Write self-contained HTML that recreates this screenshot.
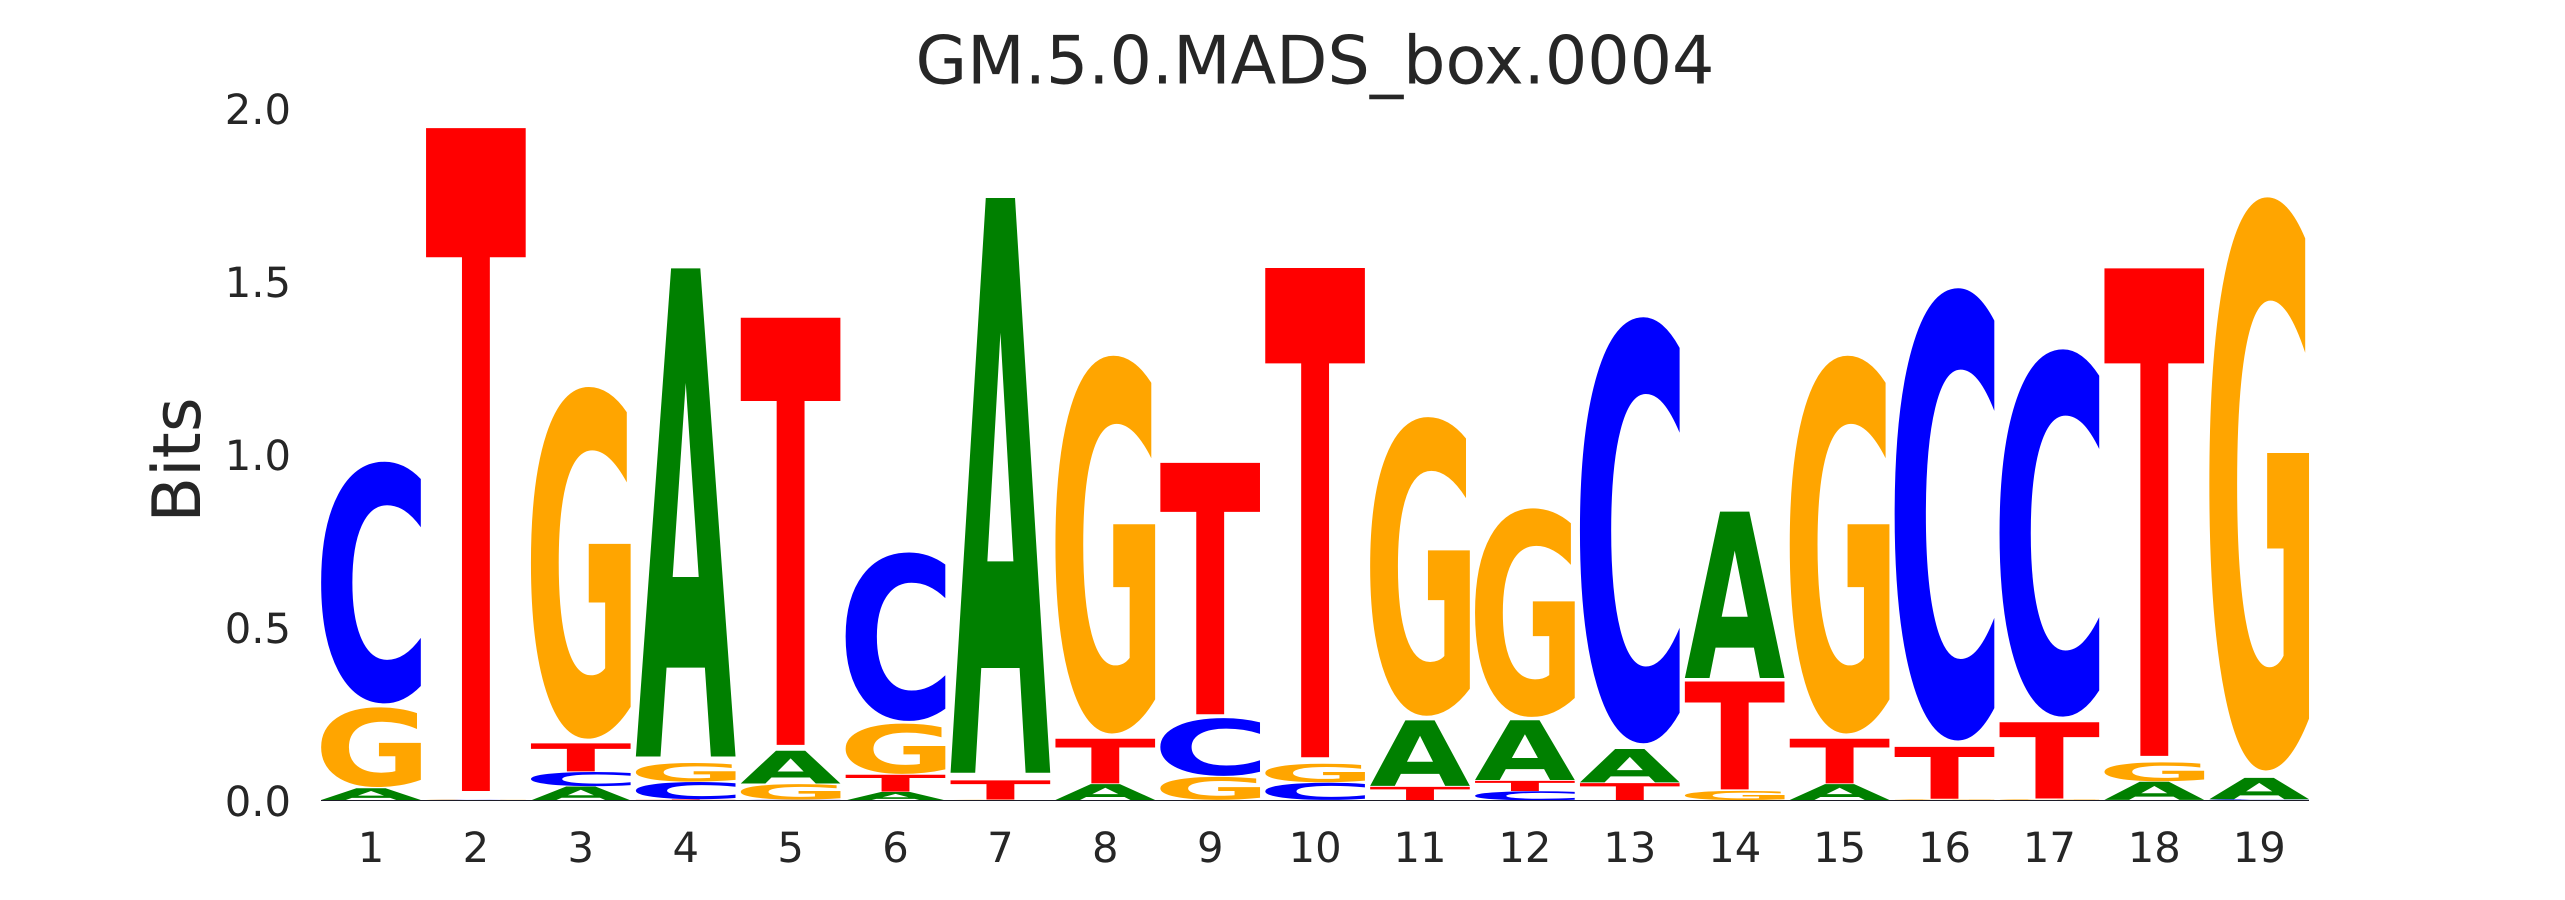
<!DOCTYPE html>
<html lang="en">
<head>
<meta charset="utf-8">
<title>GM.5.0.MADS_box.0004</title>
<style>
html,body{margin:0;padding:0;background:#fff;width:2565px;height:900px;overflow:hidden}
body{position:relative}
svg{display:block;position:absolute;left:0;top:0}
text{font-family:"DejaVu Sans","Liberation Sans",sans-serif;text-rendering:geometricPrecision}
.lab{fill:#262626}
#logo{position:absolute;left:0;top:0;width:2565px;height:900px;overflow:hidden}
.glyph{position:absolute;left:0;top:0;width:0;height:0;line-height:0;white-space:nowrap;
  font-family:"DejaVu Sans","Liberation Sans",sans-serif;font-weight:bold;font-size:1000px;
  text-rendering:geometricPrecision;transform-origin:0 0}
#baseline{position:absolute;height:1px;background:#1c1c28}
</style>
</head>
<body>
<svg id="chart" xmlns="http://www.w3.org/2000/svg" width="2565" height="900" viewBox="0 0 2565 900">
  <rect x="0" y="0" width="2565" height="900" fill="#ffffff"/>
  <text class="lab" x="1315" y="83.3" font-size="66.67" text-anchor="middle">GM.5.0.MADS_box.0004</text>
  <text class="lab" font-size="66.67" text-anchor="middle" transform="translate(200 460) rotate(-90)">Bits</text>
  <g id="xticks"></g>
  <g id="yticks"></g>
</svg>
<div id="logo"></div>
<script>
const positions = [1,2,3,4,5,6,7,8,9,10,11,12,13,14,15,16,17,18,19];
const yTickValues = [0,0.5,1,1.5,2];
const yTickLabels = ["0.0","0.5","1.0","1.5","2.0"];
const seriesA = [0.035,0.001,0.041,1.447,0.097,0.025,1.7035,0.047,0.001,0.001,0.194,0.177,0.099,0.493,0.047,0.001,0.001,0.054,0.063];
const seriesC = [0.716,0.001,0.042,0.051,0.002,0.499,0.001,0.001,0.171,0.051,0.001,0.027,1.262,0.001,0.001,1.34,1.088,0.001,0.002];
const seriesG = [0.236,0.001,1.0417,0.055,0.046,0.149,0.001,1.119,0.068,0.055,0.885,0.618,0.001,0.027,1.119,0.002,0.002,0.056,1.698];
const seriesT = [0.001,1.965,0.083,0.003,1.266,0.05,0.057,0.132,0.745,1.45,0.039,0.03,0.05,0.32,0.132,0.154,0.226,1.445,0.001];
const letterColors = {A:"#008000",C:"#0000ff",G:"#ffa500",T:"#ff0000"};

const SVGNS = "http://www.w3.org/2000/svg";
const FONT_SIZE = 1000;
const LETTER_WIDTH = 0.95;
const VPAD = 0.025;

function xScale(p){ return 371 + (p - 1) * 104.9; }
function yScale(v){ return 800.5 - 346 * v; }

const inkCache = {};
function inkBox(ch){
  if (inkCache[ch]) return inkCache[ch];
  const S = 1500, ox = 200, oy = 1150;
  const c = document.createElement("canvas");
  c.width = S;
  c.height = S;
  const ctx = c.getContext("2d", {willReadFrequently:true});
  ctx.font = "bold " + FONT_SIZE + "px \"DejaVu Sans\"";
  ctx.fillStyle = "#000";
  ctx.textBaseline = "alphabetic";
  ctx.fillText(ch, ox, oy);
  const d = ctx.getImageData(0, 0, S, S).data;
  let minX = S, maxX = -1, minY = S, maxY = -1;
  for (let y = 0; y < S; y++) {
    for (let x = 0; x < S; x++) {
      if (d[(y * S + x) * 4 + 3] >= 128) {
        if (x < minX) minX = x;
        if (x > maxX) maxX = x;
        if (y < minY) minY = y;
        if (y > maxY) maxY = y;
      }
    }
  }
  inkCache[ch] = {left:minX - ox, right:maxX + 1 - ox, ascent:oy - minY, descent:maxY + 1 - oy};
  return inkCache[ch];
}

const logo = document.getElementById("logo");

function baselineOffset(){
  const d = document.createElement("div");
  d.className = "glyph";
  d.style.visibility = "hidden";
  d.textContent = "A";
  const p = document.createElement("span");
  p.style.display = "inline-block";
  p.style.width = "0";
  p.style.height = "0";
  d.appendChild(p);
  logo.appendChild(d);
  const b = p.getBoundingClientRect().bottom - d.getBoundingClientRect().top;
  logo.removeChild(d);
  return b;
}
const baseline = baselineOffset();

positions.forEach(function(pos, i){
  const stack = [
    {ch:"A", v:seriesA[i]},
    {ch:"C", v:seriesC[i]},
    {ch:"G", v:seriesG[i]},
    {ch:"T", v:seriesT[i]}
  ].sort(function(a,b){ return a.v - b.v; });
  let floor = 0;
  stack.forEach(function(item){
    const ceil = floor + item.v;
    const inset = item.v * VPAD / 2;
    const inkBottom = yScale(floor + inset);
    const inkTop = yScale(ceil - inset);
    const x0 = xScale(pos - LETTER_WIDTH / 2);
    const x1 = xScale(pos + LETTER_WIDTH / 2);
    const b = inkBox(item.ch);
    const sx = (x1 - x0) / (b.right - b.left);
    const sy = (inkBottom - inkTop) / (b.ascent + b.descent);
    const tx = x0 - b.left * sx;
    const ty = inkBottom - b.descent * sy - baseline * sy;
    const t = document.createElement("div");
    
    
    t.className = "glyph";
    t.style.color = letterColors[item.ch];
    t.style.transform = "matrix(" + sx + ",0,0," + sy + "," + tx + "," + ty + ")";
    t.textContent = item.ch;
    logo.appendChild(t);
    floor = ceil;
  });
});

const baselineLine = document.createElement("div");
baselineLine.id = "baseline";


baselineLine.style.left = xScale(positions[0] - LETTER_WIDTH / 2) + "px";
baselineLine.style.width = (xScale(positions[positions.length - 1] + LETTER_WIDTH / 2) - xScale(positions[0] - LETTER_WIDTH / 2)) + "px";
baselineLine.style.top = Math.floor(yScale(0)) + "px";
logo.appendChild(baselineLine);

const xticks = document.getElementById("xticks");
positions.forEach(function(pos){
  const t = document.createElementNS(SVGNS, "text");
  
  
  t.setAttribute("class", "lab");
  t.setAttribute("font-size", "41.67");
  t.setAttribute("text-anchor", "middle");
  t.setAttribute("x", xScale(pos));
  t.setAttribute("y", 862);
  t.textContent = String(pos);
  xticks.appendChild(t);
});

const yticks = document.getElementById("yticks");
yTickValues.forEach(function(v, i){
  const t = document.createElementNS(SVGNS, "text");
  
  
  t.setAttribute("class", "lab");
  t.setAttribute("font-size", "41.67");
  t.setAttribute("text-anchor", "end");
  t.setAttribute("x", 291);
  t.setAttribute("y", yScale(v) + 15.3);
  t.textContent = yTickLabels[i];
  yticks.appendChild(t);
});
</script>
</body>
</html>
